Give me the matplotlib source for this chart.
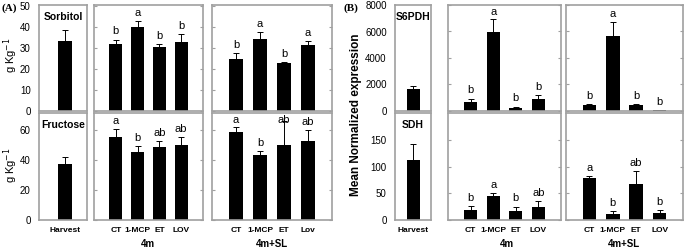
import numpy as np
import matplotlib
matplotlib.use('Agg')
import matplotlib.pyplot as plt

plt.rcParams['font.family'] = ['Liberation Sans', 'DejaVu Sans']

# treatments
trt_4m = ['CT', '1-MCP', 'ET', 'LOV']
trt_sl_a = ['CT', '1-MCP', 'ET', 'Lov']
trt_sl_b = ['CT', '1-MCP', 'ET', 'LOV']

# (A) sorbitol, g/kg
sorb_harv, sorb_harv_err = 33.5, 5.3
sorb_4m = [32.0, 40.0, 30.7, 32.7]
sorb_4m_err = [2.0, 3.0, 1.3, 4.0]
sorb_4m_let = ['b', 'a', 'b', 'b']
sorb_sl = [24.7, 34.5, 22.8, 31.5]
sorb_sl_err = [2.7, 3.0, 0.6, 1.8]
sorb_sl_let = ['b', 'a', 'b', 'a']

# (A) fructose, g/kg
fruc_harv, fruc_harv_err = 37.5, 4.5
fruc_4m = [55.5, 45.5, 49.0, 50.0]
fruc_4m_err = [5.0, 3.8, 3.5, 5.3]
fruc_4m_let = ['a', 'b', 'ab', 'ab']
fruc_sl = [59.0, 43.3, 50.0, 52.5]
fruc_sl_err = [3.0, 2.5, 16.0, 7.5]
fruc_sl_let = ['a', 'b', 'ab', 'ab']

# (B) S6PDH expression
s6_harv, s6_harv_err = 1650, 200
s6_4m = [650, 5950, 250, 870]
s6_4m_err = [280, 1000, 80, 300]
s6_4m_let = ['b', 'a', 'b', 'b']
s6_sl = [450, 5650, 450, 50]
s6_sl_err = [60, 1050, 100, 30]
s6_sl_let = ['b', 'a', 'b', 'b']

# (B) SDH expression
sdh_harv, sdh_harv_err = 112, 30
sdh_4m = [18, 45, 16, 25]
sdh_4m_err = [8, 5, 9, 11]
sdh_4m_let = ['b', 'a', 'b', 'ab']
sdh_sl = [79, 11, 67, 14]
sdh_sl_err = [4, 6, 25, 5]
sdh_sl_let = ['a', 'b', 'ab', 'b']

W, H = 685, 249
fig = plt.figure(figsize=(W / 100, H / 100), dpi=100)
FRAME = '#a0a0a0'
BW = 0.58


def ax_at(x0, x1, y0, y1):
    # pixel box -> figure fraction
    return fig.add_axes([x0 / W, 1 - y1 / H, (x1 - x0) / W, (y1 - y0) / H])


def style(ax, ylim, yticks, labels_left):
    ax.set_ylim(*ylim)
    ax.set_yticks(yticks)
    for s in ax.spines.values():
        s.set_color(FRAME)
        s.set_linewidth(1.2)
    if labels_left:
        ax.tick_params(axis='y', length=0, labelsize=7, pad=6)
    else:
        ax.tick_params(axis='y', direction='in', length=2.5, color=FRAME,
                       left=True, right=True, labelleft=False)
    ax.tick_params(axis='x', length=0, labelsize=6, pad=5)


def harvest(ax, val, err, ylim, yticks, title, xl, xr, show_x):
    ax.bar([0], [val], BW, color='black')
    ax.errorbar([0], [val], yerr=[[0], [err]], fmt='none', ecolor='black',
                elinewidth=0.7, capsize=2.5, capthick=0.7)
    ax.set_xlim(xl, xr)
    style(ax, ylim, yticks, True)
    ax.text(0.5, 0.93, title, transform=ax.transAxes, ha='center', va='top',
            fontsize=7.5, fontweight='bold')
    if show_x:
        ax.set_xticks([0])
        ax.set_xticklabels(['Harvest'], fontweight='bold')
    else:
        ax.set_xticks([])


def group(ax, vals, errs, lets, ylim, yticks, names, show_x):
    x = np.arange(1, len(vals) + 1)
    ax.bar(x, vals, BW, color='black')
    ax.errorbar(x, vals, yerr=[np.zeros(len(errs)), errs], fmt='none',
                ecolor='black', elinewidth=0.7, capsize=2.5, capthick=0.7)
    off = (ylim[1] - ylim[0]) * 0.03
    cap = ylim[1] * 0.89
    for xi, v, e, l in zip(x, vals, errs, lets):
        ax.text(xi, min(v + e + off, cap), l, ha='center', va='bottom', fontsize=8)
    ax.set_xlim(0, 5)
    style(ax, ylim, yticks, False)
    if show_x:
        ax.set_xticks(x)
        ax.set_xticklabels(names, fontweight='bold')
    else:
        ax.set_xticks([])


# ---- panel A ----
top = (5, 111)
bot = (113, 220)
ylA1, ytA1 = (0, 50.5), [0, 10, 20, 30, 40, 50]
ylA2, ytA2 = (0, 71.5), [0, 20, 40, 60]

a = ax_at(39, 87, *top)
harvest(a, sorb_harv, sorb_harv_err, ylA1, ytA1, 'Sorbitol', -1.12, 0.95, False)
a = ax_at(94, 203, *top)
group(a, sorb_4m, sorb_4m_err, sorb_4m_let, ylA1, ytA1, trt_4m, False)
a = ax_at(212, 332, *top)
group(a, sorb_sl, sorb_sl_err, sorb_sl_let, ylA1, ytA1, trt_sl_a, False)

a = ax_at(39, 87, *bot)
harvest(a, fruc_harv, fruc_harv_err, ylA2, ytA2, 'Fructose', -1.12, 0.95, True)
a = ax_at(94, 203, *bot)
group(a, fruc_4m, fruc_4m_err, fruc_4m_let, ylA2, ytA2, trt_4m, True)
a = ax_at(212, 332, *bot)
group(a, fruc_sl, fruc_sl_err, fruc_sl_let, ylA2, ytA2, trt_sl_a, True)

# ---- panel B ----
ylB1, ytB1 = (0, 8000), [0, 2000, 4000, 6000, 8000]
ylB2, ytB2 = (0, 201), [0, 50, 100, 150]

b = ax_at(395, 431, *top)
harvest(b, s6_harv, s6_harv_err, ylB1, ytB1, 'S6PDH', -0.82, 0.78, False)
b = ax_at(448, 561, *top)
group(b, s6_4m, s6_4m_err, s6_4m_let, ylB1, ytB1, trt_4m, False)
b = ax_at(566, 683, *top)
group(b, s6_sl, s6_sl_err, s6_sl_let, ylB1, ytB1, trt_sl_b, False)

b = ax_at(395, 431, *bot)
harvest(b, sdh_harv, sdh_harv_err, ylB2, ytB2, 'SDH', -0.82, 0.78, True)
b = ax_at(448, 561, *bot)
group(b, sdh_4m, sdh_4m_err, sdh_4m_let, ylB2, ytB2, trt_4m, True)
b = ax_at(566, 683, *bot)
group(b, sdh_sl, sdh_sl_err, sdh_sl_let, ylB2, ytB2, trt_sl_b, True)

# labels
def ftext(x, y, s, **kw):
    fig.text(x / W, 1 - y / H, s, **kw)

ftext(2, 8, '(A)', fontsize=8, fontweight='bold', family='Liberation Serif', va='center')
ftext(344, 8, '(B)', fontsize=8, fontweight='bold', family='Liberation Serif', va='center')
ftext(11, 55, 'g Kg$^{-1}$', fontsize=8, rotation=90, ha='center', va='center')
ftext(11, 165, 'g Kg$^{-1}$', fontsize=8, rotation=90, ha='center', va='center')
ftext(356, 115, 'Mean Normalized expression', fontsize=8.5, fontweight='bold',
      rotation=90, ha='center', va='center')
ftext(148, 244, '4m', fontsize=7, fontweight='bold', ha='center', va='center')
ftext(272, 244, '4m+SL', fontsize=7, fontweight='bold', ha='center', va='center')
ftext(507, 244, '4m', fontsize=7, fontweight='bold', ha='center', va='center')
ftext(624, 244, '4m+SL', fontsize=7, fontweight='bold', ha='center', va='center')

fig.savefig('out.png', dpi=100)
